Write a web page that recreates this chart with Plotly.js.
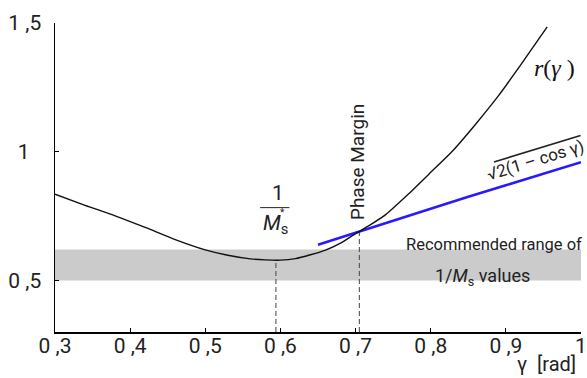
<!DOCTYPE html>
<html>
<head>
<meta charset="utf-8">
<script src="https://cdn.plot.ly/plotly-3.0.1.min.js"></script>
<style>html,body{margin:0;padding:0;background:#fff;}#chart{width:587px;height:378px;}</style>
</head>
<body>
<div id="chart"></div>
<script>
// r(gamma) curve
const gammaR = [0.30,0.34,0.38,0.42,0.46,0.50,0.53,0.56,0.58,0.60,0.62,0.64,0.66,0.68,0.70,0.72,0.74,0.77,0.80,0.83,0.86,0.89,0.92,0.955];
const rValues = [0.835,0.792,0.751,0.706,0.659,0.619,0.598,0.584,0.580,0.579,0.585,0.600,0.618,0.645,0.682,0.717,0.756,0.835,0.920,1.006,1.108,1.217,1.338,1.485];
// sqrt(2(1-cos gamma)) line
const gammaS = [0.65,0.70,0.75,0.80,0.85,0.90,0.95,1.00];
const sValues = [0.639,0.686,0.732,0.779,0.825,0.870,0.915,0.959];
// recommended band of 1/Ms values
const bandLow = 0.5;
const bandHigh = 0.62;
// marked points (1/Ms* and phase margin)
const markX = [0.594, 0.705];
const markY = [0.579, 0.692];
// axis ticks
const xTickVals = [0.3,0.4,0.5,0.6,0.7,0.8,0.9,1.0];
const xTickText = ["0 ,3","0 ,4","0 ,5","0 ,6","0 ,7","0 ,8","0 ,9","1"];
const yTickVals = [0.5,1.0,1.5];
const yTickText = ["0 ,5","1\u2007","1 ,5"];

const FONT = "Roboto, 'Liberation Sans', sans-serif";

const traces = [];
markX.forEach((mx, i) => {
  traces.push({x:[mx,mx], y:[0.3, markY[i]], mode:'lines', line:{color:'#444', width:1, dash:'5px,3px'}, hoverinfo:'skip', showlegend:false});
});
traces.push({x:gammaS, y:sValues, mode:'lines', line:{color:'rgb(40,25,255)', width:2.5}, showlegend:false});
traces.push({x:gammaR, y:rValues, mode:'lines', line:{color:'#111', width:1.4, shape:'spline', smoothing:0.6}, showlegend:false});

function ann(o){ return Object.assign({showarrow:false, xanchor:'center', yanchor:'middle'}, o); }

const layout = {
  width:587, height:378,
  margin:{l:55, r:6, t:23, b:46},
  paper_bgcolor:'#fff', plot_bgcolor:'#fff',
  font:{family:FONT, color:'#222', size:21},
  xaxis:{range:[0.3,1.0], tickvals:xTickVals, ticktext:xTickText, ticks:'inside', ticklen:4, tickcolor:'#000', tickwidth:1,
         showline:true, linecolor:'#000', linewidth:1.5, showgrid:false, zeroline:false, ticklabeloverflow:'allow', ticklabelstandoff:-6,
         tickfont:{size:21, color:'#222', family:FONT}},
  yaxis:{range:[0.3,1.5], tickvals:yTickVals, ticktext:yTickText, ticks:'inside', ticklen:4, tickcolor:'#000', tickwidth:1,
         showline:true, linecolor:'#000', linewidth:1.5, showgrid:false, zeroline:false, ticklabelstandoff:8,
         tickfont:{size:21, color:'#222', family:FONT}},
  shapes:[
    {type:'rect', xref:'paper', x0:0, x1:1, yref:'y', y0:bandLow, y1:bandHigh, fillcolor:'#cbcbcb', line:{width:0}, layer:'below'},
    {type:'line', xref:'x', yref:'y', x0:0.573, x1:0.612, y0:0.783, y1:0.783, line:{color:'#222', width:1}}
  ],
  annotations:[
    ann({xref:'x', yref:'y', x:0.597, y:0.841, text:'1', font:{size:21}}),
    ann({xref:'x', yref:'y', x:0.594, y:0.717, text:'<i>M</i><sub>s</sub>', font:{size:21}}),
    ann({xref:'x', yref:'y', x:0.603, y:0.765, text:'*', font:{size:10}}),
    ann({xref:'x', yref:'y', x:0.7026, y:0.958, text:'Phase Margin', textangle:-90, font:{size:19}}),
    ann({xref:'paper', yref:'paper', x:0.949, y:0.854, text:'<i>r</i>(<i>γ</i> )', font:{family:"'Liberation Serif','Times New Roman',serif", size:24, color:'#111'}}),
    ann({xref:'paper', yref:'paper', x:0.913, y:0.557, text:"√<span style='text-decoration:overline'>2(1 – cos γ)</span>", textangle:-17, font:{size:17, color:'#222'}}),
    ann({xref:'paper', yref:'paper', x:0.835, y:0.2816, text:'Recommended range of', font:{size:16.5}}),
    ann({xref:'paper', yref:'paper', x:0.812, y:0.178, text:'1/<i>M</i><sub>s</sub> values', font:{size:18}}),
    ann({xref:'paper', yref:'paper', x:0.935, y:-0.148, yanchor:'bottom', text:'γ  [rad]', font:{size:20}})
  ]
};
Plotly.newPlot('chart', traces, layout, {displayModeBar:false, staticPlot:true});
</script>
</body>
</html>
